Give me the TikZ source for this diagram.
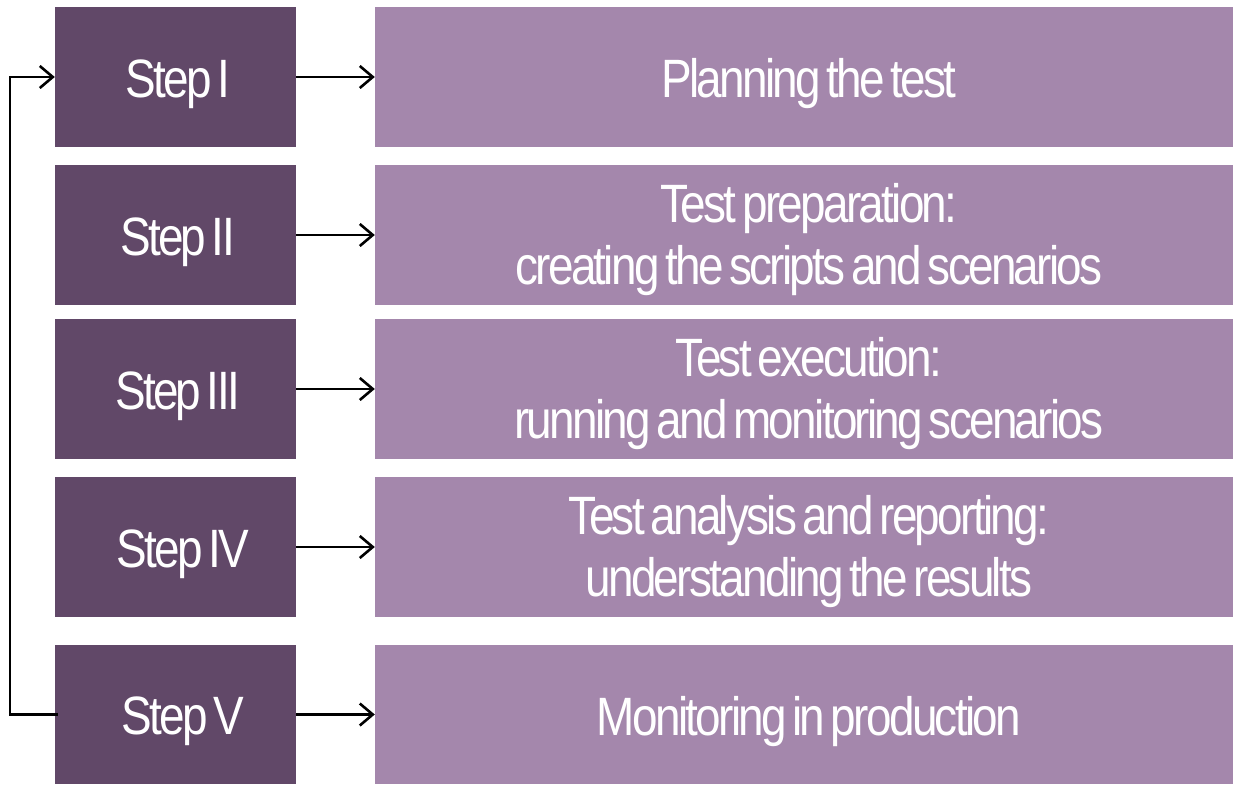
\documentclass[tikz,border=0pt]{standalone}
\usepackage{fontspec}
\setmainfont{Liberation Sans}[FakeStretch=0.85,LetterSpace=-5,WordSpace=0.55]
\usetikzlibrary{arrows.meta}
\definecolor{stepdark}{HTML}{614868}
\definecolor{steplight}{HTML}{A487AC}
\begin{document}
\begin{tikzpicture}[x=1pt,y=-1pt,
  stepbox/.style={fill=stepdark,draw=none,minimum width=241pt,minimum height=140pt,inner sep=0pt},
  descbox/.style={fill=steplight,draw=none,minimum width=858pt,minimum height=140pt,inner sep=0pt},
  boxtext/.style={inner sep=0pt,text=white,align=center,font=\fontsize{54}{62}\selectfont},
  arr/.style={draw=black,line width=2.6pt,-{Straight Barb[length=13pt,width=22pt,line width=2.6pt]}}]
\useasboundingbox (0,0) rectangle (1233,784);
\node[stepbox] (s1) at (175.5,77) {};
\node[stepbox] (s2) at (175.5,235) {};
\node[stepbox] (s3) at (175.5,389) {};
\node[stepbox] (s4) at (175.5,547) {};
\node[stepbox,minimum height=139pt] (s5) at (175.5,714.5) {};
\node[descbox] (d1) at (804,77) {};
\node[descbox] (d2) at (804,235) {};
\node[descbox] (d3) at (804,389) {};
\node[descbox] (d4) at (804,547) {};
\node[descbox,minimum height=139pt] (d5) at (804,714.5) {};
\node[boxtext] (ts1) at ([shift={(2,7)}]s1.center) {Step I};
\node[boxtext] (ts2) at ([shift={(2,7)}]s2.center) {Step II};
\node[boxtext] (ts3) at ([shift={(2,7)}]s3.center) {Step III};
\node[boxtext] (ts4) at ([shift={(7,7)}]s4.center) {Step IV};
\node[boxtext] (ts5) at ([shift={(7,7)}]s5.center) {Step V};
\node[boxtext] (td1) at ([shift={(5,7)}]d1.center) {Planning the test};
\node[boxtext] (td2) at ([shift={(5,5)}]d2.center) {Test preparation:\\creating the scripts and scenarios};
\node[boxtext] (td3) at ([shift={(5,5)}]d3.center) {Test execution:\\running and monitoring scenarios};
\node[boxtext] (td4) at ([shift={(5,5)}]d4.center) {Test analysis and reporting:\\understanding the results};
\node[boxtext] (td5) at ([shift={(5,7)}]d5.center) {Monitoring in production};
\foreach \i in {1,...,5} {\draw[arr] (s\i.east) -- (d\i.west);}
\draw[arr] ([xshift=3pt]s5.west) -- ++(-48,0) coordinate (c1) |- (s1.west);
\end{tikzpicture}
\end{document}
